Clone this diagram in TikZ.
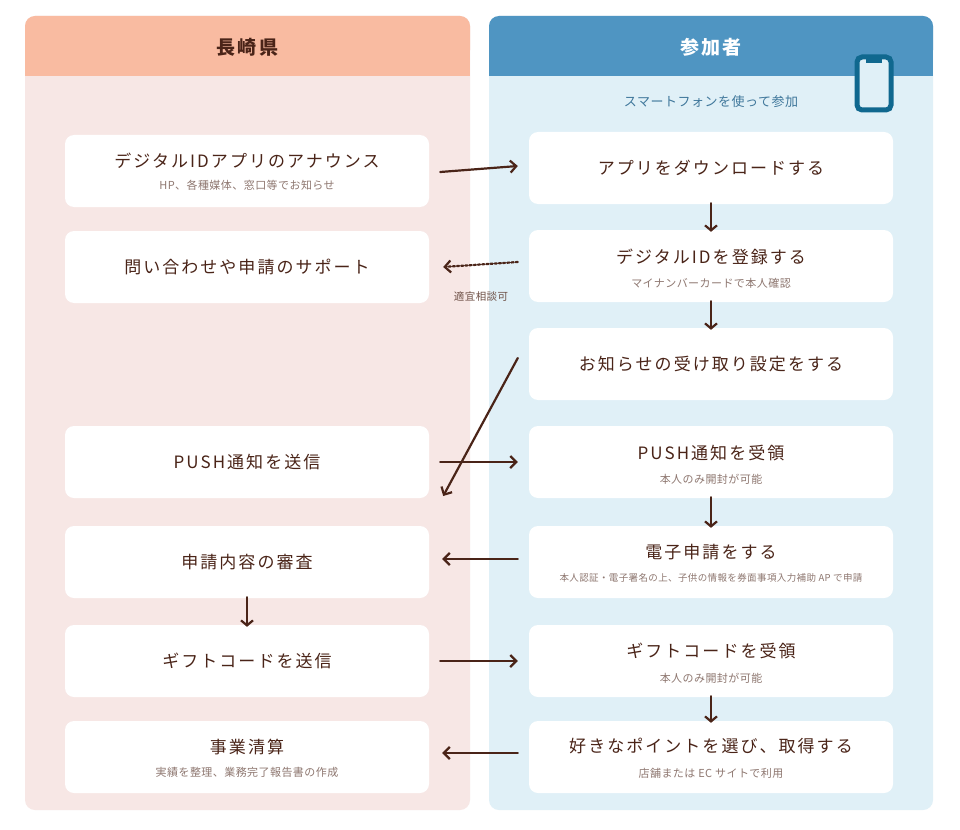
\documentclass[tikz,border=0pt]{standalone}
\usetikzlibrary{arrows.meta}
\usepackage{fontspec}
\newfontfamily\jp{Noto Sans CJK JP}[LetterSpace=12]
\newfontfamily\jps{Noto Sans CJK JP}[LetterSpace=4]
\definecolor{lhead}{HTML}{F9BBA1}
\definecolor{lbody}{HTML}{F7E7E5}
\definecolor{rhead}{HTML}{4F95C2}
\definecolor{rbody}{HTML}{E0F0F7}
\definecolor{tx}{HTML}{4A2418}
\definecolor{sub}{HTML}{8E7770}
\definecolor{phone}{HTML}{10688F}
\begin{document}
\begin{tikzpicture}[x=1pt,y=-1pt,
  card/.style={fill=white,rounded corners=9pt,minimum width=364pt,minimum height=72pt,draw=none,inner sep=0pt},
  ttl/.style={font=\jp\fontsize{17}{20}\selectfont,text=tx},
  st/.style={font=\jps\fontsize{11}{13}\selectfont,text=sub},
  arr/.style={draw=tx,line width=2.2pt,-{Straight Barb[length=6pt,width=12pt]},line cap=round},
  darr/.style={arr,dotted}]
\useasboundingbox (0,0) rectangle (960,829);
\fill[white] (0,0) rectangle (960,829);
% panels
\fill[lbody,rounded corners=10pt] (25,16) rectangle (470,810);
\fill[lhead,rounded corners=10pt] (25,16) rectangle (470,60);
\fill[lhead] (25,40) rectangle (470,76);
\fill[rbody,rounded corners=10pt] (489,16) rectangle (933,810);
\fill[rhead,rounded corners=10pt] (489,16) rectangle (933,60);
\fill[rhead] (489,40) rectangle (933,76);
\node[font=\jp\fontsize{19}{22}\selectfont\bfseries,text=tx] (lh) at (247.5,47) {長崎県};
\node[font=\jp\fontsize{19}{22}\selectfont\bfseries,text=white] (rh) at (711,47) {参加者};
\node[font=\jps\fontsize{13}{15}\selectfont,text=rhead!80!black] (rs) at (711,102) {スマートフォンを使って参加};
% phone
\draw[phone,line width=5pt,fill=rbody,rounded corners=5pt] (857,57) rectangle (891,110);
\fill[phone] (866,57) rectangle (882,63);
% left cards
\node[card] (L1) at (247,171) {};
\node[ttl] at (247,161) {デジタルIDアプリのアナウンス};
\node[st] at (247,185) {HP、各種媒体、窓口等でお知らせ};
\node[card] (L2) at (247,267) {};
\node[ttl] at (247,267) {問い合わせや申請のサポート};
\node[card] (L4) at (247,462) {};
\node[ttl] at (247,462) {PUSH通知を送信};
\node[card] (L5) at (247,562) {};
\node[ttl] at (247,562) {申請内容の審査};
\node[card] (L6) at (247,661) {};
\node[ttl] at (247,661) {ギフトコードを送信};
\node[card] (L7) at (247,757) {};
\node[ttl] at (247,747) {事業清算};
\node[st] at (247,772) {実績を整理、業務完了報告書の作成};
% right cards
\node[card] (R1) at (711,168) {};
\node[ttl] at (711,168) {アプリをダウンロードする};
\node[card] (R2) at (711,266) {};
\node[ttl] at (711,257) {デジタルIDを登録する};
\node[st] at (711,283) {マイナンバーカードで本人確認};
\node[card] (R3) at (711,364) {};
\node[ttl] at (711,364) {お知らせの受け取り設定をする};
\node[card] (R4) at (711,462) {};
\node[ttl] at (711,453) {PUSH通知を受領};
\node[st] at (711,479) {本人のみ開封が可能};
\node[card] (R5) at (711,562) {};
\node[ttl] at (711,552) {電子申請をする};
\node[font=\jps\fontsize{9.5}{11}\selectfont,text=sub] at (711,578) {本人認証・電子署名の上、子供の情報を券面事項入力補助 AP で申請};
\node[card] (R6) at (711,661) {};
\node[ttl] at (711,651) {ギフトコードを受領};
\node[st] at (711,678) {本人のみ開封が可能};
\node[card] (R7) at (711,757) {};
\node[ttl] at (711,746) {好きなポイントを選び、取得する};
\node[st] at (711,773) {店舗または EC サイトで利用};
% horizontal arrows
\draw[arr] ([xshift=11pt,yshift=-1pt]L1.east) -- ([xshift=-11pt,yshift=2pt]R1.west);
\draw[darr] ([xshift=-11pt,yshift=4pt]R2.west) -- ([xshift=14pt]L2.east);
\node[font=\jps\fontsize{10.5}{12}\selectfont,text=tx!80] at (481,297) {適宜相談可};
\draw[arr] ([xshift=-11pt,yshift=6pt]R3.west) -- ([xshift=14pt,yshift=-34pt]L4.east);
\draw[arr] ([xshift=11pt]L4.east) -- ([xshift=-11pt]R4.west);
\draw[arr] ([xshift=-11pt,yshift=3pt]R5.west) -- ([xshift=13pt,yshift=3pt]L5.east);
\draw[arr] ([xshift=11pt]L6.east) -- ([xshift=-11pt]R6.west);
\draw[arr] ([xshift=-11pt,yshift=4pt]R7.west) -- ([xshift=13pt,yshift=4pt]L7.east);
% down arrows
\foreach \a/\b in {R1/R2,R2/R3,R4/R5,R6/R7}
  \draw[arr,-{Straight Barb[length=5pt,width=12pt]}] ([yshift=1pt]\a.south) -- ([yshift=-2pt]\b.north);
\draw[arr,-{Straight Barb[length=5pt,width=12pt]}] ([yshift=1pt]L5.south) -- ([yshift=-2pt]L6.north);
\end{tikzpicture}
\end{document}
